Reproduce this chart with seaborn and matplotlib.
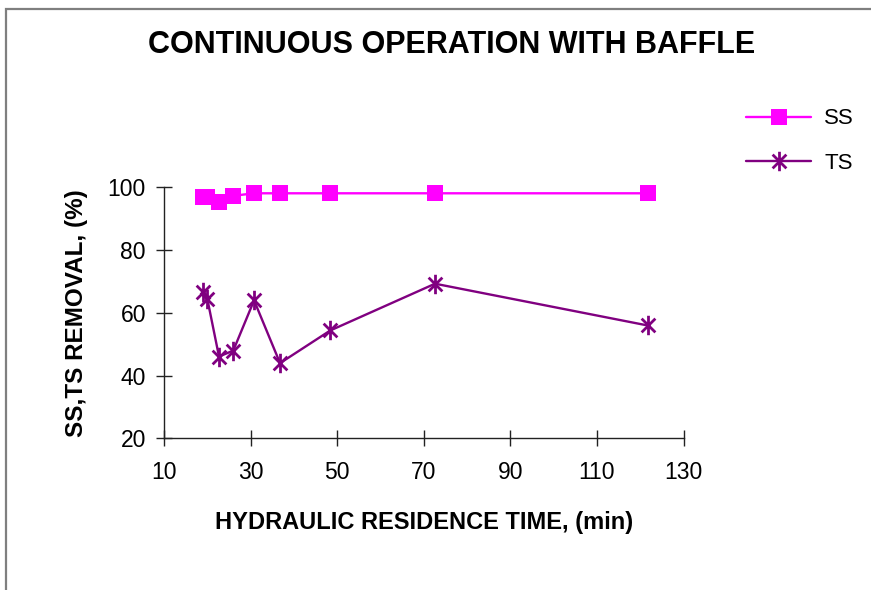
import numpy as np
import pandas as pd
import matplotlib
matplotlib.use("Agg")
import matplotlib.pyplot as plt
import seaborn as sns
from matplotlib.path import Path
from matplotlib.patches import Rectangle

# --- data ---
hrt_min = [19.0, 20.0, 22.7, 26.0, 30.8, 36.8, 48.4, 72.6, 121.7]
ss_removal = [96.9, 97.0, 95.2, 97.3, 98.1, 98.1, 98.1, 98.1, 98.1]
ts_removal = [66.6, 64.5, 46.1, 48.0, 64.0, 44.0, 54.4, 69.3, 56.0]
series_names = ["SS", "TS"]
series_colors = ["#FF00FF", "#800080"]
x_ticks = [10, 30, 50, 70, 90, 110, 130]
y_ticks = [20, 40, 60, 80, 100]

df = pd.DataFrame({
    "hrt": hrt_min * 2,
    "removal": ss_removal + ts_removal,
    "series": ["SS"] * len(hrt_min) + ["TS"] * len(hrt_min),
})

# Excel-style asterisk: an X with a vertical bar
d = 0.7071
star = Path(
    [(-d, -d), (d, d), (-d, d), (d, -d), (0, -1), (0, 1)],
    [Path.MOVETO, Path.LINETO, Path.MOVETO, Path.LINETO, Path.MOVETO, Path.LINETO],
)

sns.set_style("white")
plt.rcParams["font.family"] = ["Liberation Sans", "DejaVu Sans"]
plt.rcParams.update({"text.color": "black", "axes.labelcolor": "black",
                     "xtick.color": "black", "ytick.color": "black"})

fig = plt.figure(figsize=(8.71, 5.9), dpi=100)
ax = fig.add_axes([0.1883, 0.2568, 0.5965, 0.4257])

# page frame (left and top edge only visible)
fig.patches.append(Rectangle((0.007, -0.1), 1.2, 1.085, transform=fig.transFigure,
                             fill=False, edgecolor="#7f7f7f", linewidth=1.6))

sns.lineplot(data=df[df.series == "SS"], x="hrt", y="removal", ax=ax,
             color=series_colors[0], marker="s", markersize=11, markeredgewidth=0,
             linewidth=1.7, label="SS", clip_on=False)
sns.lineplot(data=df[df.series == "TS"], x="hrt", y="removal", ax=ax,
             color=series_colors[1], marker=star, markersize=14, markeredgewidth=2,
             markeredgecolor=series_colors[1], linewidth=1.7, label="TS", clip_on=False)

ax.set_xlim(10, 130)
ax.set_ylim(20, 100)
ax.set_xticks(x_ticks)
ax.set_yticks(y_ticks)
ax.tick_params(axis="both", direction="inout", length=12, width=1, color="#222222",
               labelsize=16.5, bottom=True, left=True)
ax.tick_params(axis="x", pad=10)
ax.tick_params(axis="y", pad=7)
for s in ["top", "right"]:
    ax.spines[s].set_visible(False)
for s in ["left", "bottom"]:
    ax.spines[s].set_color("#222222")
    ax.spines[s].set_linewidth(1)

ax.set_xlabel("HYDRAULIC RESIDENCE TIME, (min)", fontsize=17, fontweight="bold", labelpad=20)
ax.set_ylabel("SS,TS REMOVAL, (%)", fontsize=17.5, fontweight="bold", labelpad=14)
fig.text(0.518, 0.923, "CONTINUOUS OPERATION WITH BAFFLE", ha="center", va="center",
         fontsize=22, fontweight="bold")

ax.legend(loc="upper left", bbox_to_anchor=(0.834, 0.85), bbox_transform=fig.transFigure,
          frameon=False, fontsize=16, handlelength=2.9, labelspacing=1.05, handletextpad=0.6)

fig.savefig("out.png", dpi=100)
